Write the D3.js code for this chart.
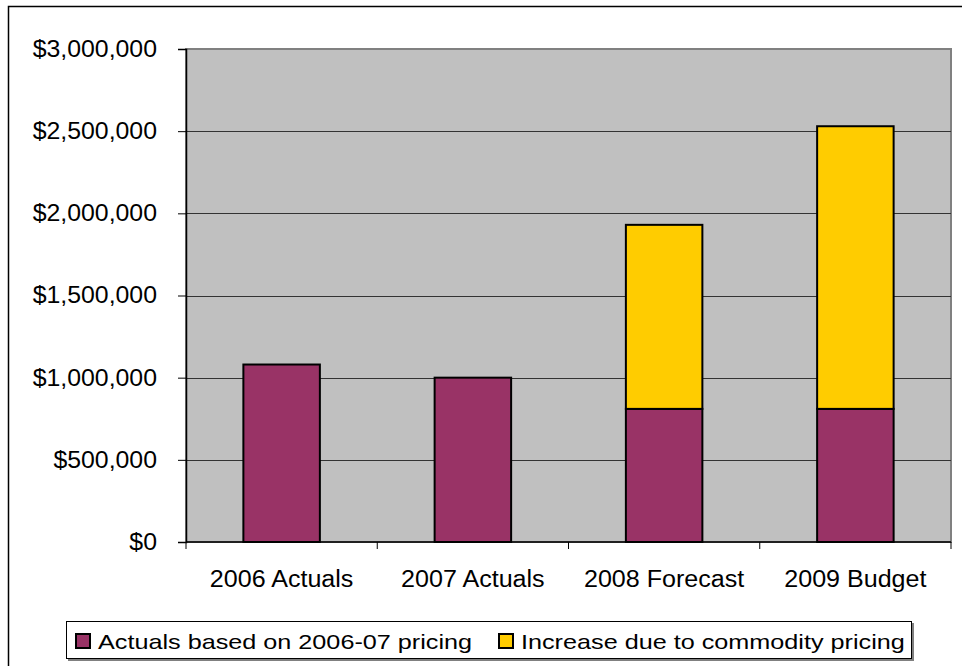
<!DOCTYPE html>
<html>
<head>
<meta charset="utf-8">
<script src="https://d3js.org/d3.v7.min.js"></script>
<style>
  body { margin: 0; background: #fff; }
  text { font-family: "Liberation Sans", Arial, sans-serif; fill: #000; }
</style>
</head>
<body>
<script>
// chart data
var categories = ["2006 Actuals", "2007 Actuals", "2008 Forecast", "2009 Budget"];
var seriesNames = ["Actuals based on 2006-07 pricing", "Increase due to commodity pricing"];
var actuals = [1080000, 1000000, 810000, 810000];
var increase = [0, 0, 1120000, 1720000];
var yTicks = [0, 500000, 1000000, 1500000, 2000000, 2500000, 3000000];
var colors = ["#993366", "#FFCC00"];

var w = 962, h = 666;
var plot = {left: 186, right: 951, top: 49, bottom: 542};

var svg = d3.select("body").append("svg")
  .attr("width", w)
  .attr("height", h);

// text in the original is a bit wider than its height suggests
function stretch(sel, k) {
  sel.each(function() {
    var len = this.getComputedTextLength();
    d3.select(this)
      .attr("textLength", len * k)
      .attr("lengthAdjust", "spacingAndGlyphs");
  });
}

// outer chart border (runs off the right/bottom of the picture)
svg.append("rect")
  .attr("x", 8.5).attr("y", 6.5)
  .attr("width", 1000).attr("height", 700)
  .attr("fill", "none")
  .attr("stroke", "#000")
  .attr("stroke-width", 1.5);

var x = d3.scaleBand()
  .domain(categories)
  .range([plot.left, plot.right])
  .paddingInner(0.6)
  .paddingOuter(0.3);

var y = d3.scaleLinear()
  .domain([0, 3000000])
  .range([plot.bottom, plot.top]);

// plot background
svg.append("rect")
  .attr("x", plot.left).attr("y", plot.top)
  .attr("width", plot.right - plot.left)
  .attr("height", plot.bottom - plot.top)
  .attr("fill", "#C0C0C0")
  .attr("stroke", "#808080")
  .attr("stroke-width", 2);

// gridlines
svg.append("g")
  .selectAll("line")
  .data(yTicks.slice(1, -1))
  .enter().append("line")
  .attr("x1", plot.left).attr("x2", plot.right)
  .attr("y1", function(d) { return Math.round(y(d)) + 0.5; })
  .attr("y2", function(d) { return Math.round(y(d)) + 0.5; })
  .attr("stroke", "#333")
  .attr("stroke-width", 1);

// stacked bars
var stackData = categories.map(function(c, i) {
  return {cat: c, a: actuals[i], b: increase[i]};
});
var stack = d3.stack().keys(["a", "b"])(stackData);

svg.append("g")
  .selectAll("g")
  .data(stack)
  .enter().append("g")
  .attr("fill", function(d, i) { return colors[i]; })
  .selectAll("rect")
  .data(function(d) { return d.filter(function(p) { return p[1] > p[0]; }); })
  .enter().append("rect")
  .attr("x", function(d) { return x(d.data.cat); })
  .attr("y", function(d) { return y(d[1]); })
  .attr("width", x.bandwidth())
  .attr("height", function(d) { return y(d[0]) - y(d[1]); })
  .attr("stroke", "#000")
  .attr("stroke-width", 2);

// y axis
var yAxis = svg.append("g")
  .attr("transform", "translate(" + plot.left + ",0)")
  .call(d3.axisLeft(y)
    .tickValues(yTicks)
    .tickSize(8)
    .tickPadding(21)
    .tickFormat(function(d) { return "$" + d3.format(",")(d); }));
yAxis.select(".domain").attr("stroke", "#000").attr("stroke-width", 1.5);
yAxis.selectAll("line").attr("stroke", "#000");
yAxis.selectAll("text")
  .attr("font-size", 23)
  .attr("font-family", "Liberation Sans, Arial, sans-serif")
  .call(stretch, 1.08);

// x axis
var xAxis = svg.append("g")
  .attr("transform", "translate(0," + plot.bottom + ")");
xAxis.append("line")
  .attr("x1", plot.left).attr("x2", plot.right)
  .attr("stroke", "#000").attr("stroke-width", 1.5);
var xEdges = d3.range(categories.length + 1).map(function(i) {
  return plot.left + i * (plot.right - plot.left) / categories.length;
});
xAxis.selectAll(".tick")
  .data(xEdges)
  .enter().append("line")
  .attr("x1", function(d) { return d; })
  .attr("x2", function(d) { return d; })
  .attr("y1", 0).attr("y2", 7)
  .attr("stroke", "#000");
xAxis.selectAll("text")
  .data(categories)
  .enter().append("text")
  .attr("x", function(d) { return x(d) + x.bandwidth() / 2; })
  .attr("y", 45)
  .attr("text-anchor", "middle")
  .attr("font-size", 23)
  .text(function(d) { return d; })
  .call(stretch, 1.09);

// legend
var legend = svg.append("g");
legend.append("rect")
  .attr("x", 68).attr("y", 623)
  .attr("width", 846).attr("height", 38)
  .attr("fill", "#808080");
legend.append("rect")
  .attr("x", 66.5).attr("y", 621.5)
  .attr("width", 845).attr("height", 37)
  .attr("fill", "#fff")
  .attr("stroke", "#000")
  .attr("stroke-width", 1);

var legendX = [75, 498];
seriesNames.forEach(function(name, i) {
  legend.append("rect")
    .attr("x", legendX[i] + 1).attr("y", 634)
    .attr("width", 14).attr("height", 14)
    .attr("fill", colors[i])
    .attr("stroke", "#000")
    .attr("stroke-width", 2);
  legend.append("text")
    .attr("x", legendX[i] + 23)
    .attr("y", 649)
    .attr("font-size", 21)
    .text(name)
    .call(stretch, 1.2);
});
</script>
</body>
</html>
